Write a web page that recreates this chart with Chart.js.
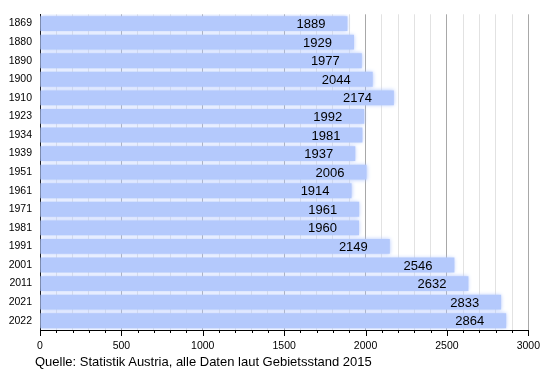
<!DOCTYPE html>
<html>
<head>
<meta charset="utf-8">
<script src="https://cdn.jsdelivr.net/npm/chart.js@4/dist/chart.umd.min.js"></script>
<style>
  html, body { margin: 0; padding: 0; background: #fff; }
  #wrap { position: relative; width: 550px; height: 370px; }
  #caption {
    position: absolute; left: 35px; top: 354px;
    font: 13px "Liberation Sans", Arial, sans-serif; color: #000;
  }
</style>
</head>
<body>
<div id="wrap">
  <canvas id="chart" width="550" height="370"></canvas>
  <div id="caption">Quelle: Statistik Austria, alle Daten laut Gebietsstand 2015</div>
</div>
<script>
// Einwohner je Volkszählungsjahr
const years = ['1869', '1880', '1890', '1900', '1910', '1923', '1934', '1939', '1951',
               '1961', '1971', '1981', '1991', '2001', '2011', '2021', '2022'];
const population = [1889, 1929, 1977, 2044, 2174, 1992, 1981, 1937, 2006,
                    1914, 1961, 1960, 2149, 2546, 2632, 2833, 2864];
const xTicks = [0, 500, 1000, 1500, 2000, 2500, 3000];

const barColor = '#b4c9fc';

// weiche Balkenränder
const softBars = {
    id: 'softBars',
    beforeDatasetsDraw(chart) {
        chart.ctx.save();
        chart.ctx.shadowColor = barColor;
        chart.ctx.shadowBlur = 4;
    },
    afterDatasetsDraw(chart) {
        const ctx = chart.ctx;
        ctx.restore();
        // Werte in den Balken
        ctx.save();
        ctx.font = '13px "Liberation Sans", Arial, sans-serif';
        ctx.fillStyle = '#000';
        ctx.textAlign = 'right';
        ctx.textBaseline = 'middle';
        chart.getDatasetMeta(0).data.forEach((bar, i) => {
            ctx.fillText(population[i], bar.x - 22, bar.y + 1);
        });
        ctx.restore();
    }
};

// Teilstriche unter der x-Achse
const axisTicks = {
    id: 'axisTicks',
    afterDraw(chart) {
        const ctx = chart.ctx;
        const x = chart.scales.x;
        const bottom = chart.chartArea.bottom;
        ctx.save();
        ctx.strokeStyle = '#000';
        ctx.lineWidth = 1;
        for (let v = 0; v <= 3000; v += 100) {
            const px = Math.round(x.getPixelForValue(v)) + 0.5;
            const len = v % 500 === 0 ? 6 : 3;
            ctx.beginPath(); ctx.moveTo(px, bottom); ctx.lineTo(px, bottom + len); ctx.stroke();
        }
        ctx.restore();
    }
};

new Chart(document.getElementById('chart'), {
    type: 'bar',
    data: {
        labels: years,
        datasets: [{
            data: population,
            backgroundColor: barColor,
            borderWidth: 0,
            barPercentage: 0.8,
            categoryPercentage: 1.0
        }]
    },
    options: {
        indexAxis: 'y',
        responsive: false,
        animation: false,
        layout: { padding: { top: 9, right: 20, bottom: 18, left: 0 } },
        plugins: { legend: { display: false }, tooltip: { enabled: false } },
        scales: {
            x: {
                min: 0, max: 3000,
                ticks: {
                    stepSize: 100,
                    autoSkip: false,
                    maxRotation: 0,
                    padding: 10,
                    color: '#000',
                    font: { family: '"Liberation Sans", Arial, sans-serif', size: 10.5 },
                    callback: v => (xTicks.includes(v) ? v : '')
                },
                grid: {
                    drawTicks: false,
                    color: c => (c.tick && c.tick.value % 500 === 0 ? '#a8a8a8' : '#e2e2e2')
                },
                border: { color: '#000', width: 1 },
                afterFit: s => { s.height = 22; }
            },
            y: {
                ticks: {
                    color: '#000',
                    padding: 8,
                    font: { family: '"Liberation Sans", Arial, sans-serif', size: 10.5 }
                },
                grid: { display: false, drawTicks: false },
                border: { color: '#000', width: 1 },
                afterFit: s => { s.width = 40; }
            }
        }
    },
    plugins: [softBars, axisTicks]
});
</script>
</body>
</html>
